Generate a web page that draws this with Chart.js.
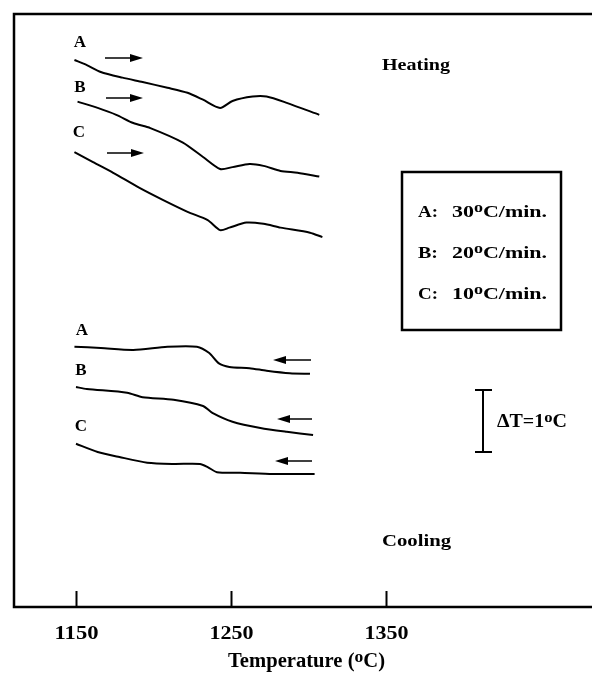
<!DOCTYPE html>
<html>
<head>
<meta charset="utf-8">
<script src="https://cdn.jsdelivr.net/npm/chart.js@4"></script>
<style>
  body { margin: 0; background: #fff; }
  canvas { display: block; }
</style>
</head>
<body>
<canvas id="dta" width="592" height="673"></canvas>
<script>
// temperatures (oC) and DTA signal (delta T, oC)
const heatA_T = [1149, 1157, 1166, 1180, 1193, 1209, 1222, 1232, 1243, 1251, 1264, 1273, 1286, 1307];
const heatA_y = [8.68, 8.60, 8.49, 8.40, 8.33, 8.24, 8.16, 8.05, 7.92, 8.03, 8.10, 8.10, 8.00, 7.81];
const heatB_T = [1151, 1164, 1176, 1187, 1198, 1219, 1232, 1243, 1251, 1262, 1271, 1282, 1293, 1307];
const heatB_y = [8.02, 7.92, 7.81, 7.68, 7.60, 7.37, 7.14, 6.95, 6.98, 7.03, 7.00, 6.92, 6.89, 6.83];
const heatC_T = [1149, 1161, 1174, 1191, 1206, 1222, 1235, 1243, 1249, 1260, 1271, 1282, 1301, 1309];
const heatC_y = [7.22, 7.06, 6.89, 6.65, 6.46, 6.27, 6.14, 5.98, 6.02, 6.10, 6.08, 6.02, 5.94, 5.87];
const coolA_T = [1149, 1166, 1187, 1209, 1228, 1236, 1242, 1249, 1262, 1273, 1288, 1301];
const coolA_y = [4.13, 4.11, 4.08, 4.13, 4.13, 4.03, 3.87, 3.81, 3.79, 3.75, 3.71, 3.70];
const coolB_T = [1150, 1157, 1183, 1193, 1213, 1232, 1238, 1251, 1269, 1286, 1303];
const coolB_y = [3.49, 3.46, 3.40, 3.33, 3.29, 3.19, 3.08, 2.94, 2.84, 2.78, 2.73];
const coolC_T = [1150, 1164, 1178, 1196, 1213, 1230, 1235, 1241, 1256, 1277, 1304];
const coolC_y = [2.59, 2.46, 2.38, 2.29, 2.27, 2.27, 2.22, 2.14, 2.13, 2.11, 2.11];

const tickValues = [1150, 1250, 1350];
const rateLabels = [['A:', '30'], ['B:', '20'], ['C:', '10']];

const FONT = '"Liberation Serif", "DejaVu Serif", serif';

function pts(xs, ys) { return xs.map((x, i) => ({ x: x, y: ys[i] })); }

function trace(xs, ys) {
    return {
        data: pts(xs, ys),
        borderColor: '#000',
        borderWidth: 2,
        pointRadius: 0,
        tension: 0.25,
        fill: false
    };
}

// bold serif text, parts = [[str, isSuperscript]], stretched to width w starting at x
function fitText(ctx, parts, x, y, size, w) {
    let natural = 0;
    parts.forEach(p => {
        ctx.font = 'bold ' + (p[1] ? Math.round(size * 0.85) : size) + 'px ' + FONT;
        natural += ctx.measureText(p[0]).width;
    });
    const sx = w ? w / natural : 1;
    ctx.save();
    ctx.translate(x, y);
    ctx.scale(sx, 1);
    ctx.textAlign = 'left';
    ctx.textBaseline = 'alphabetic';
    let cx = 0;
    parts.forEach(p => {
        ctx.font = 'bold ' + (p[1] ? Math.round(size * 0.85) : size) + 'px ' + FONT;
        ctx.fillText(p[0], cx, p[1] ? -size * 0.27 : 0);
        cx += ctx.measureText(p[0]).width;
    });
    ctx.restore();
}

function arrow(ctx, x1, x2, y) {
    const dir = x2 > x1 ? 1 : -1;
    ctx.beginPath();
    ctx.moveTo(x1, y);
    ctx.lineTo(x2 - dir * 10, y);
    ctx.lineWidth = 1.5;
    ctx.stroke();
    ctx.beginPath();
    ctx.moveTo(x2, y);
    ctx.lineTo(x2 - dir * 13, y - 4);
    ctx.lineTo(x2 - dir * 13, y + 4);
    ctx.closePath();
    ctx.fill();
}

const decor = {
    id: 'decor',
    afterDraw(chart) {
        const ctx = chart.ctx;
        const a = chart.chartArea;
        const xs = chart.scales.x;
        ctx.save();
        ctx.strokeStyle = '#000';
        ctx.fillStyle = '#000';
        ctx.lineCap = 'square';

        // frame: left, top, bottom (right side runs off the figure)
        ctx.lineWidth = 2.5;
        ctx.beginPath();
        ctx.moveTo(a.right, a.top);
        ctx.lineTo(a.left, a.top);
        ctx.lineTo(a.left, a.bottom);
        ctx.lineTo(a.right, a.bottom);
        ctx.stroke();

        // tick marks pointing up, and labels
        ctx.lineCap = 'butt';
        tickValues.forEach(v => {
            const px = Math.round(xs.getPixelForValue(v)) + 0.5;
            ctx.beginPath();
            ctx.moveTo(px, a.bottom);
            ctx.lineTo(px, a.bottom - 16);
            ctx.lineWidth = 2;
            ctx.stroke();
            fitText(ctx, [[String(v), false]], px - 22, a.bottom + 32, 19, 44);
        });

        // axis title
        fitText(ctx, [['Temperature (', false], ['o', true], ['C)', false]], 228, 667, 20, 157);

        // curve letters
        ctx.textAlign = 'center';
        ctx.textBaseline = 'alphabetic';
        ctx.font = 'bold 17px ' + FONT;
        [['A', 80, 47], ['B', 80, 92], ['C', 79, 137],
         ['A', 82, 335], ['B', 81, 375], ['C', 81, 431]].forEach(l => ctx.fillText(l[0], l[1], l[2]));

        // direction arrows
        arrow(ctx, 105, 143, 58);
        arrow(ctx, 106, 143, 98);
        arrow(ctx, 107, 144, 153);
        arrow(ctx, 311, 273, 360);
        arrow(ctx, 312, 277, 419);
        arrow(ctx, 312, 275, 461);

        // Heating / Cooling
        fitText(ctx, [['Heating', false]], 382, 70, 17, 68);
        fitText(ctx, [['Cooling', false]], 382, 546, 17, 69);

        // rate legend box
        ctx.lineWidth = 2.5;
        ctx.strokeRect(402, 172, 159, 158);
        rateLabels.forEach((r, i) => {
            const y = 217 + i * 41;
            fitText(ctx, [[r[0], false]], 418, y, 17, 20);
            fitText(ctx, [[r[1], false], ['o', true], ['C/min.', false]], 452, y, 17, 95);
        });

        // delta T scale bar
        ctx.lineWidth = 2;
        ctx.beginPath();
        ctx.moveTo(483, 390); ctx.lineTo(483, 452);
        ctx.moveTo(475, 390); ctx.lineTo(492, 390);
        ctx.moveTo(475, 452); ctx.lineTo(492, 452);
        ctx.stroke();
        fitText(ctx, [['\u0394T=1', false], ['o', true], ['C', false]], 497, 427, 18, 70);

        ctx.restore();
    }
};

new Chart(document.getElementById('dta'), {
    type: 'line',
    data: {
        datasets: [
            trace(heatA_T, heatA_y),
            trace(heatB_T, heatB_y),
            trace(heatC_T, heatC_y),
            trace(coolA_T, coolA_y),
            trace(coolB_T, coolB_y),
            trace(coolC_T, coolC_y)
        ]
    },
    options: {
        responsive: false,
        animation: false,
        layout: { padding: { left: 14, top: 14, right: 0, bottom: 66 } },
        scales: {
            x: { type: 'linear', min: 1110, max: 1483, display: false },
            y: { type: 'linear', min: 0, max: 9.41, display: false }
        },
        plugins: { legend: { display: false }, tooltip: { enabled: false } }
    },
    plugins: [decor]
});
</script>
</body>
</html>
